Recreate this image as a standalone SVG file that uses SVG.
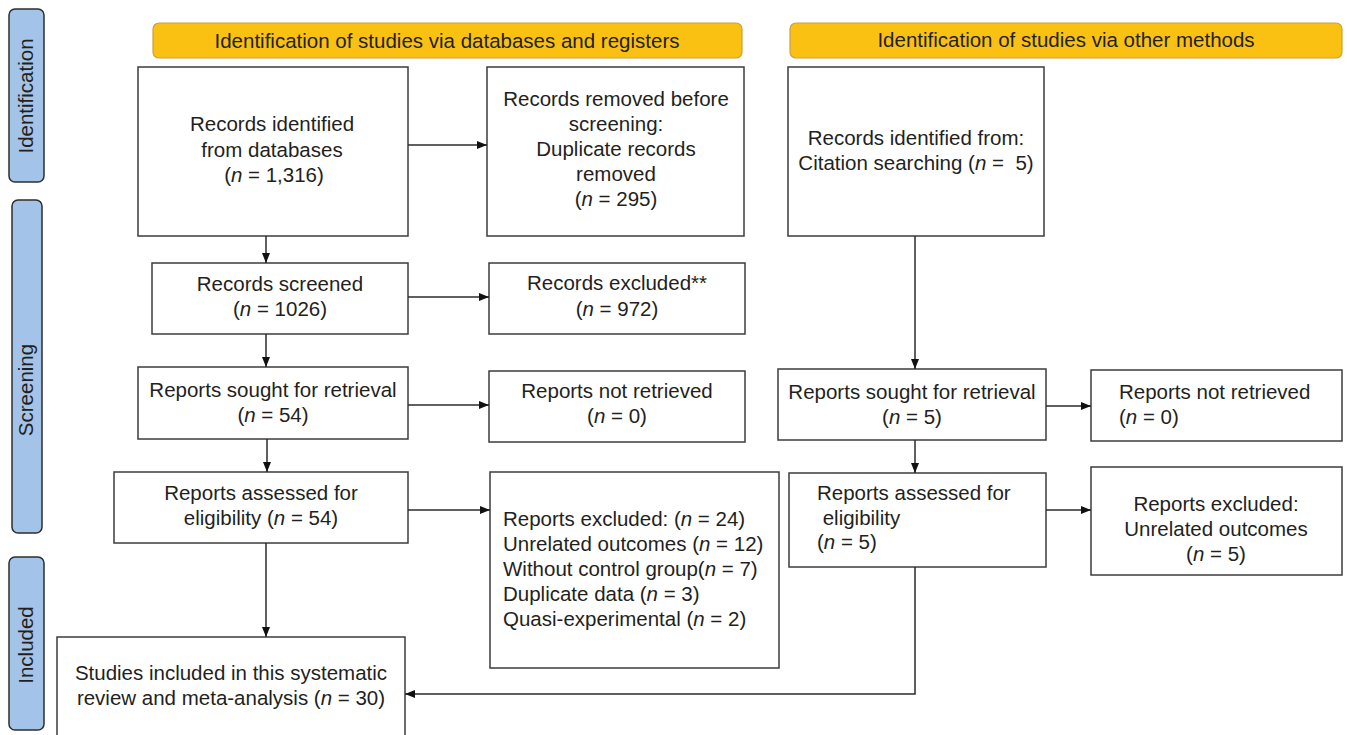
<svg xmlns="http://www.w3.org/2000/svg" width="1347" height="735" viewBox="0 0 1347 735">
<style>
text{font-family:"Liberation Sans",Arial,sans-serif;font-size:20.5px;fill:#231f20}
.c{text-anchor:middle}
.box{fill:#fff;stroke:#3c3c3c;stroke-width:1.5}
.side{fill:#a3c4e8;stroke:#2e2e2e;stroke-width:1.5}
.hdr{fill:#fbc112;stroke:#c9a043;stroke-width:1.2}
.ln{fill:none;stroke:#2b2b2b;stroke-width:1.5}
</style>
<defs>
<marker id="ah" markerUnits="userSpaceOnUse" markerWidth="11" markerHeight="9" refX="10" refY="4" orient="auto">
<path d="M0,0 L10,4 L0,8 z" fill="#111"/>
</marker>
</defs>
<rect width="1347" height="735" fill="#fff"/>

<g id="side-identification">
<rect class="side" x="9" y="9" width="35" height="173" rx="6"/>
<text class="c" transform="translate(33,96) rotate(-90)">Identification</text>
</g>
<g id="side-screening">
<rect class="side" x="12" y="200" width="30" height="333" rx="6"/>
<text class="c" transform="translate(33,390) rotate(-90)">Screening</text>
</g>
<g id="side-included">
<rect class="side" x="9" y="557" width="35" height="173" rx="6"/>
<text class="c" transform="translate(33,645) rotate(-90)">Included</text>
</g>

<g id="header-databases">
<rect class="hdr" x="153" y="23" width="589" height="35" rx="6"/>
<text class="c" x="447" y="48">Identification of studies via databases and registers</text>
</g>
<g id="header-other">
<rect class="hdr" x="790" y="23" width="552" height="35" rx="6"/>
<text class="c" x="1066" y="47">Identification of studies via other methods</text>
</g>

<g id="records-identified">
<rect class="box" x="138" y="67" width="270" height="169"/>
<text class="c" x="272" y="131">Records identified</text>
<text class="c" x="272" y="157">from databases</text>
<text class="c" x="274" y="182">(<tspan font-style="italic">n</tspan> = 1,316)</text>
</g>
<g id="records-removed">
<rect class="box" x="487" y="67" width="257" height="169"/>
<text class="c" x="616" y="106">Records removed before</text>
<text class="c" x="616" y="131">screening:</text>
<text class="c" x="616" y="156">Duplicate records</text>
<text class="c" x="616" y="181">removed</text>
<text class="c" x="616" y="206">(<tspan font-style="italic">n</tspan> = 295)</text>
</g>
<g id="citation-searching">
<rect class="box" x="788" y="67" width="256" height="169"/>
<text class="c" x="916" y="145">Records identified from:</text>
<text class="c" x="916" y="170">Citation searching (<tspan font-style="italic">n</tspan> =&#160; 5)</text>
</g>

<g id="records-screened">
<rect class="box" x="152" y="263" width="256" height="71"/>
<text class="c" x="280" y="291">Records screened</text>
<text class="c" x="280" y="316">(<tspan font-style="italic">n</tspan> = 1026)</text>
</g>
<g id="records-excluded">
<rect class="box" x="489" y="263" width="256" height="71"/>
<text class="c" x="617" y="290">Records excluded**</text>
<text class="c" x="617" y="316">(<tspan font-style="italic">n</tspan> = 972)</text>
</g>

<g id="reports-sought-db">
<rect class="box" x="138" y="367" width="270" height="72"/>
<text class="c" x="273" y="397">Reports sought for retrieval</text>
<text class="c" x="273" y="422">(<tspan font-style="italic">n</tspan> = 54)</text>
</g>
<g id="reports-not-retrieved-db">
<rect class="box" x="489" y="371" width="256" height="71"/>
<text class="c" x="617" y="398">Reports not retrieved</text>
<text class="c" x="617" y="423">(<tspan font-style="italic">n</tspan> = 0)</text>
</g>
<g id="reports-sought-other">
<rect class="box" x="778" y="369" width="268" height="71"/>
<text class="c" x="912" y="399">Reports sought for retrieval</text>
<text class="c" x="912" y="424">(<tspan font-style="italic">n</tspan> = 5)</text>
</g>
<g id="reports-not-retrieved-other">
<rect class="box" x="1091" y="370" width="251" height="71"/>
<text x="1119" y="399">Reports not retrieved</text>
<text x="1119" y="424">(<tspan font-style="italic">n</tspan> = 0)</text>
</g>

<g id="reports-assessed-db">
<rect class="box" x="114" y="472" width="294" height="71"/>
<text class="c" x="261" y="500">Reports assessed for</text>
<text class="c" x="261" y="525">eligibility (<tspan font-style="italic">n</tspan> = 54)</text>
</g>
<g id="reports-excluded-db">
<rect class="box" x="490" y="472" width="289" height="196"/>
<text x="503" y="526">Reports excluded: (<tspan font-style="italic">n</tspan> = 24)</text>
<text x="503" y="551">Unrelated outcomes (<tspan font-style="italic">n</tspan> = 12)</text>
<text x="503" y="576">Without control group(<tspan font-style="italic">n</tspan> = 7)</text>
<text x="503" y="601">Duplicate data (<tspan font-style="italic">n</tspan> = 3)</text>
<text x="503" y="626">Quasi-experimental (<tspan font-style="italic">n</tspan> = 2)</text>
</g>
<g id="reports-assessed-other">
<rect class="box" x="789" y="473" width="257" height="94"/>
<text x="817" y="500">Reports assessed for</text>
<text x="817" y="525">&#160;eligibility</text>
<text x="817" y="549">(<tspan font-style="italic">n</tspan> = 5)</text>
</g>
<g id="reports-excluded-other">
<rect class="box" x="1091" y="467" width="251" height="108"/>
<text class="c" x="1216" y="511">Reports excluded:</text>
<text class="c" x="1216" y="536">Unrelated outcomes</text>
<text class="c" x="1216" y="561">(<tspan font-style="italic">n</tspan> = 5)</text>
</g>

<g id="studies-included">
<rect class="box" x="57" y="637" width="348" height="110"/>
<text class="c" x="231" y="680">Studies included in this systematic</text>
<text class="c" x="231" y="705">review and meta-analysis (<tspan font-style="italic">n</tspan> = 30)</text>
</g>

<g id="connectors">
<path class="ln" marker-end="url(#ah)" d="M408,145 H487"/>
<path class="ln" marker-end="url(#ah)" d="M266,236 V263"/>
<path class="ln" marker-end="url(#ah)" d="M408,297 H489"/>
<path class="ln" marker-end="url(#ah)" d="M266,334 V367"/>
<path class="ln" marker-end="url(#ah)" d="M408,405 H489"/>
<path class="ln" marker-end="url(#ah)" d="M267,439 V472"/>
<path class="ln" marker-end="url(#ah)" d="M408,510 H490"/>
<path class="ln" marker-end="url(#ah)" d="M266,543 V637"/>
<path class="ln" marker-end="url(#ah)" d="M915,236 V369"/>
<path class="ln" marker-end="url(#ah)" d="M1046,406 H1091"/>
<path class="ln" marker-end="url(#ah)" d="M915,440 V473"/>
<path class="ln" marker-end="url(#ah)" d="M1046,510 H1091"/>
<path class="ln" marker-end="url(#ah)" d="M915,567 V694 H405"/>
</g>
</svg>
